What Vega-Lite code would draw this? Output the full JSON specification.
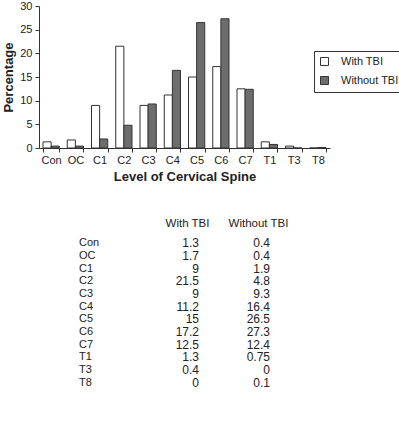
{
  "$schema": "https://vega.github.io/schema/vega-lite/v6.json",
  "padding": {"left": 2, "top": 0, "right": 0, "bottom": 0},
  "config": {
    "font": "Liberation Sans",
    "view": {"stroke": null},
    "axis": {"grid": false, "domainColor": "#333", "tickColor": "#333", "labelColor": "#222", "titleColor": "#222", "labelFont": "Liberation Sans", "titleFont": "Liberation Sans"},
    "text": {"font": "Liberation Sans", "fontSize": 11, "color": "#222"}
  },
  "datasets": {
    "rows": [
      {"level": "Con", "With TBI": 1.3, "Without TBI": 0.4},
      {"level": "OC", "With TBI": 1.7, "Without TBI": 0.4},
      {"level": "C1", "With TBI": 9, "Without TBI": 1.9},
      {"level": "C2", "With TBI": 21.5, "Without TBI": 4.8},
      {"level": "C3", "With TBI": 9, "Without TBI": 9.3},
      {"level": "C4", "With TBI": 11.2, "Without TBI": 16.4},
      {"level": "C5", "With TBI": 15, "Without TBI": 26.5},
      {"level": "C6", "With TBI": 17.2, "Without TBI": 27.3},
      {"level": "C7", "With TBI": 12.5, "Without TBI": 12.4},
      {"level": "T1", "With TBI": 1.3, "Without TBI": 0.75},
      {"level": "T3", "With TBI": 0.4, "Without TBI": 0},
      {"level": "T8", "With TBI": 0, "Without TBI": 0.1}
    ]
  },
  "vconcat": [
    {
      "width": 291,
      "height": 142,
      "data": {"name": "rows"},
      "transform": [{"fold": ["With TBI", "Without TBI"], "as": ["series", "value"]}],
      "mark": {"type": "bar", "stroke": "#333", "strokeWidth": 1},
      "encoding": {
        "x": {
          "field": "level", "type": "nominal", "sort": null,
          "scale": {"paddingInner": 0.33, "paddingOuter": 0.165},
          "axis": {"title": "Level of Cervical Spine", "labelAngle": 0, "tickBand": "extent", "tickSize": 4, "labelPadding": 2, "labelFontSize": 11, "titleFontSize": 13, "titleFontWeight": "bold", "titlePadding": 5}
        },
        "xOffset": {"field": "series", "sort": ["With TBI", "Without TBI"]},
        "y": {
          "field": "value", "type": "quantitative",
          "scale": {"domain": [0, 30], "nice": false},
          "axis": {"title": "Percentage", "values": [0, 5, 10, 15, 20, 25, 30], "tickSize": 4, "labelPadding": 3, "labelFontSize": 11, "titleFontSize": 13, "titleFontWeight": "bold", "titlePadding": 4}
        },
        "color": {
          "field": "series", "type": "nominal",
          "scale": {"domain": ["With TBI", "Without TBI"], "range": ["#ffffff", "#6d6d6d"]},
          "legend": {"title": null, "orient": "none", "legendX": 275, "legendY": 45, "strokeColor": "#333", "padding": 5, "rowPadding": 6, "symbolType": "square", "symbolSize": 64, "symbolStrokeColor": "#333", "symbolStrokeWidth": 1, "symbolOpacity": 1, "labelFontSize": 11, "labelOffset": 11, "labelColor": "#222", "fillColor": "#ffffff"}
        }
      }
    },
    {
      "width": 291,
      "height": 152,
      "data": {"name": "rows"},
      "encoding": {
        "y": {"field": "level", "type": "nominal", "sort": null, "scale": {"type": "point", "padding": 0.5}, "axis": null}
      },
      "layer": [
        {
          "transform": [{"fold": ["With TBI", "Without TBI"], "as": ["series", "value"]}],
          "mark": {"type": "text", "align": "right", "fontSize": 12},
          "encoding": {
            "x": {
              "field": "series", "type": "nominal",
              "scale": {"type": "point", "domain": ["Level", "With TBI", "Without TBI"], "range": [89, 231], "padding": 0},
              "axis": {"orient": "top", "title": null, "domain": false, "ticks": false, "tickSize": 0, "labelAngle": 0, "labelPadding": 9, "labelOffset": -12, "labelFontSize": 11.5, "labelExpr": "datum.value == 'Level' ? '' : datum.value"}
            },
            "text": {"field": "value", "type": "quantitative"}
          }
        },
        {
          "mark": {"type": "text", "align": "left", "dx": -49},
          "encoding": {
            "x": {"datum": "Level", "type": "nominal"},
            "text": {"field": "level", "type": "nominal"}
          }
        }
      ]
    }
  ],
  "spacing": 34
}
